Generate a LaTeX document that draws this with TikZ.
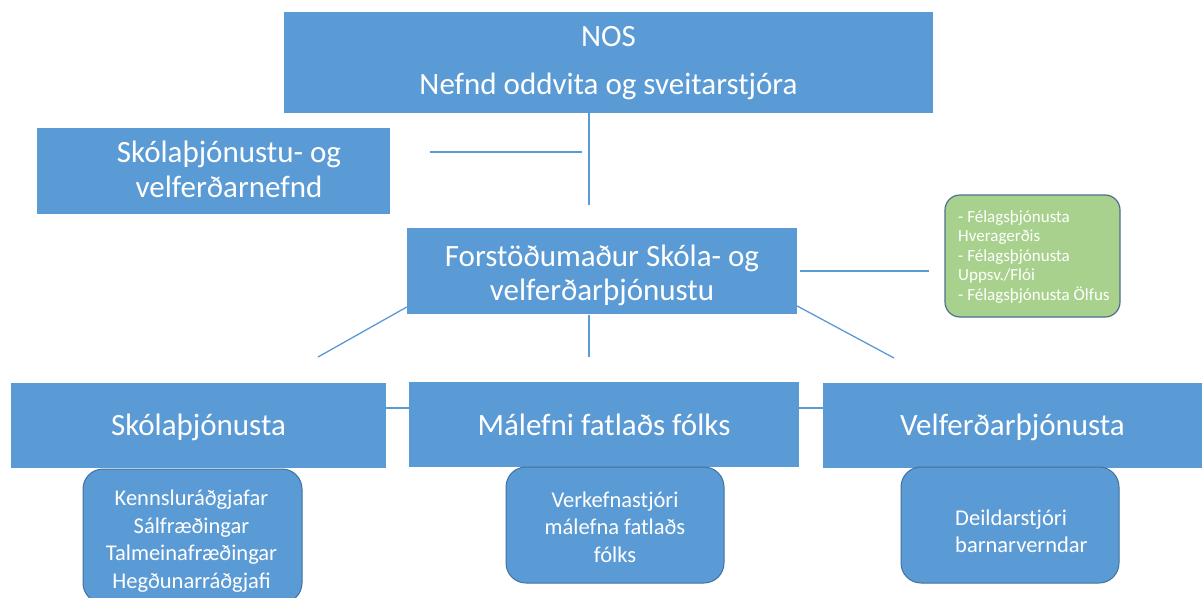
\documentclass[tikz,border=0pt]{standalone}
\usepackage{fontspec}
\setmainfont{Carlito}
\definecolor{boxblue}{HTML}{5B9BD5}
\definecolor{boxedge}{HTML}{41719C}
\definecolor{lineblue}{HTML}{5B9BD5}
\definecolor{boxgreen}{HTML}{A9D18E}
\definecolor{greenedge}{HTML}{4F6F8C}
\tikzset{
  sqbox/.style={fill=boxblue, draw=none, inner sep=0pt},
  rbox/.style={fill=boxblue, draw=boxedge, line width=1pt, rounded corners=20pt, inner sep=0pt},
  gbox/.style={fill=boxgreen, draw=greenedge, line width=1.2pt, rounded corners=15pt, inner sep=0pt},
  lbl/.style={text=white, inner sep=0pt, align=center},
  conn/.style={draw=lineblue, line width=1.3pt},
  big/.style={font=\fontsize{31}{34}\selectfont},
  mid/.style={font=\fontsize{22.5}{27.5}\selectfont},
  small/.style={font=\fontsize{17}{19.5}\selectfont},
}
\begin{document}
\begin{tikzpicture}[x=1pt,y=-1pt]
\useasboundingbox (0,0) rectangle (1202,597);
\fill[white] (0,0) rectangle (1202,597);

% top box
\node[sqbox, minimum width=649pt, minimum height=101pt] (nos) at (608.5,62.5) {};
\node[lbl, font=\fontsize{31}{48}\selectfont] (nost) at (608.5,63) {NOS\\Nefnd oddvita og sveitarstjóra};

% committee box
\node[sqbox, minimum width=353pt, minimum height=86pt] (nefnd) at (213.5,171) {};
\node[lbl, font=\fontsize{31}{35}\selectfont] (nefndt) at (229,169.5) {Skólaþjónustu- og\\velferðarnefnd};

% director box
\node[sqbox, minimum width=390pt, minimum height=86pt] (forst) at (602,271) {};
\node[lbl, big] (forstt) at (602,275) {Forstöðumaður Skóla- og\\velferðarþjónustu};

% green box
\node[gbox, minimum width=175pt, minimum height=122pt] (green) at (1032.5,256) {};
\node[lbl, small, anchor=west, align=left] (greent) at (958,257) {- Félagsþjónusta\\Hveragerðis\\- Félagsþjónusta\\Uppsv./Flói\\- Félagsþjónusta Ölfus};

% bottom boxes
\node[sqbox, minimum width=375pt, minimum height=85pt] (skola) at (198.5,425.5) {};
\node[lbl, big] (skolat) at (198.5,427) {Skólaþjónusta};
\node[sqbox, minimum width=390pt, minimum height=85pt] (malefni) at (604,424.5) {};
\node[lbl, big] (malefnit) at (604,425) {Málefni fatlaðs fólks};
\node[sqbox, minimum width=379pt, minimum height=85pt] (velf) at (1012.5,425.5) {};
\node[lbl, big] (velft) at (1012.5,427) {Velferðarþjónusta};

% sub boxes
\node[rbox, minimum width=219pt, minimum height=134pt] (skolasub) at (192.5,536) {};
\node[lbl, mid] (skolasubt) at (191.5,541) {Kennsluráðgjafar\\Sálfræðingar\\Talmeinafræðingar\\Hegðunarráðgjafi};
\node[rbox, minimum width=218pt, minimum height=116pt] (malsub) at (615,525) {};
\node[lbl, mid] (malsubt) at (615,527) {Verkefnastjóri\\málefna fatlaðs\\fólks};
\node[rbox, minimum width=218pt, minimum height=116pt] (velfsub) at (1010,525) {};
\node[lbl, mid, align=left, anchor=west] (velfsubt) at (955,531.5) {Deildarstjóri\\barnarverndar};

% connectors
\coordinate (nosend) at (589,205);
\draw[conn] (nos.south -| nosend) -- (nosend);
\coordinate (nefA) at (430,152);
\coordinate (nefB) at (582,152);
\draw[conn] (nefA) -- (nefB);
\coordinate (grA) at (800,271);
\coordinate (grB) at (929,271);
\draw[conn] (grA) -- (grB);
\coordinate (dlA) at (forst.west |- 0,307);
\coordinate (dl) at (318,357);
\coordinate (dmA) at (589,315);
\coordinate (dm) at (589,357);
\coordinate (drA) at (forst.east |- 0,306);
\coordinate (dr) at (894,358);
\draw[conn] (dlA) -- (dl);
\draw[conn] (dmA) -- (dm);
\draw[conn] (drA) -- (dr);
\coordinate (hA) at (skola.east |- 0,408);
\coordinate (hB) at (malefni.west |- 0,408);
\draw[conn] (hA) -- (hB);
\coordinate (hC) at (malefni.east |- 0,408);
\coordinate (hD) at (velf.west |- 0,408);
\draw[conn] (hC) -- (hD);
\end{tikzpicture}
\end{document}
